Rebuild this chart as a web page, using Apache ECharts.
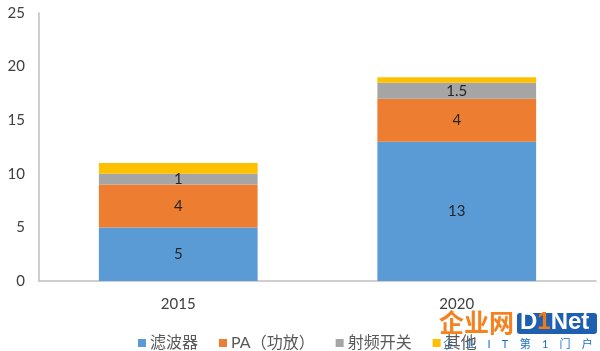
<!DOCTYPE html>
<html>
<head>
<meta charset="utf-8">
<script src="https://cdn.jsdelivr.net/npm/echarts@6/dist/echarts.min.js"></script>
<style>
  html, body { margin: 0; padding: 0; background: #fff; }
  #chart { width: 600px; height: 351px; }
</style>
</head>
<body>
<div id="chart"></div>
<script>
const years = ['2015', '2020']
const filterVals = [5, 13]
const paVals = [4, 4]
const switchVals = [1, 1.5]
const otherVals = [1, 0.5]
const yTicks = [0, 5, 10, 15, 20, 25]

const font = 'Lato, "Noto Sans CJK SC", sans-serif'
const chart = echarts.init(document.getElementById('chart'))

function barSeries(name, data, color, showLabel) {
  return {
    name: name,
    type: 'bar',
    stack: 'total',
    barWidth: '57%',
    data: data,
    itemStyle: { color: color },
    label: {
      show: showLabel,
      position: 'inside',
      color: '#262626',
      fontSize: 15,
      fontFamily: font
    }
  }
}

const option = {
  animation: false,
  textStyle: { fontFamily: font },
  grid: { left: 39, right: 4, top: 13, bottom: 70, containLabel: false },
  legend: {
    left: 133,
    top: 330,
    icon: 'rect',
    itemWidth: 8,
    itemHeight: 8,
    itemGap: 21,
    textStyle: { fontSize: 16, color: '#595959', fontFamily: font, padding: [0, 0, 0, -1] },
    data: ['滤波器', 'PA（功放）', '射频开关', '其他']
  },
  xAxis: {
    type: 'category',
    data: years,
    axisLine: { lineStyle: { color: '#bfbfbf', width: 1.5 } },
    axisTick: { show: false },
    axisLabel: { color: '#404040', fontSize: 15, margin: 16, fontFamily: font }
  },
  yAxis: {
    type: 'value',
    min: yTicks[0],
    max: yTicks[yTicks.length - 1],
    interval: 5,
    splitLine: { show: false },
    axisLine: { show: true, lineStyle: { color: '#bfbfbf', width: 1.5 } },
    axisTick: { show: false },
    axisLabel: { color: '#404040', fontSize: 15, margin: 14, fontFamily: font }
  },
  series: [
    barSeries('滤波器', filterVals, '#5B9BD5', true),
    barSeries('PA（功放）', paVals, '#ED7D31', true),
    barSeries('射频开关', switchVals, '#A5A5A5', true),
    barSeries('其他', otherVals, '#FFC000', false)
  ],
  // watermark in the bottom right corner
  graphic: [
    {
      type: 'text',
      left: 439,
      top: 311,
      style: {
        text: '企业网',
        fill: '#F5821F',
        fontSize: 25,
        fontWeight: 'bold',
        fontFamily: font
      }
    },
    {
      type: 'rect',
      left: 517,
      top: 313,
      shape: { width: 80, height: 21, r: 3 },
      style: { fill: '#1F5FB0' }
    },
    {
      type: 'text',
      left: 520,
      top: 310,
      style: {
        text: '{b|D}{c|1}{b|Net}',
        rich: {
          b: { fill: '#ffffff', fontSize: 24, fontWeight: 'bold', fontFamily: 'Liberation Sans, sans-serif' },
          c: { fill: '#F07A1A', fontSize: 24, fontWeight: 'bold', fontFamily: 'Liberation Sans, sans-serif' }
        }
      }
    },
    {
      type: 'text',
      left: 443,
      top: 339,
      style: {
        text: '企    业    I    T    第    1    门    户',
        fill: '#1F6FC5',
        fontSize: 11,
        fontFamily: font
      }
    }
  ]
}

chart.setOption(option)
</script>
</body>
</html>
